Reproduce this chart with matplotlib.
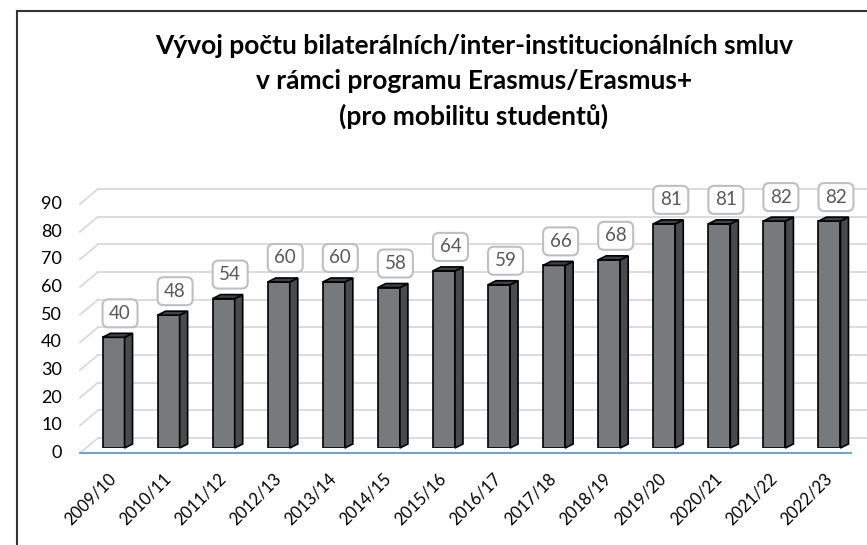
import matplotlib
matplotlib.use("Agg")
import matplotlib.pyplot as plt
from matplotlib.patches import Polygon, FancyBboxPatch
from matplotlib.lines import Line2D
from matplotlib import transforms

# ---- data ----
seasons = ["2009/10", "2010/11", "2011/12", "2012/13", "2013/14", "2014/15", "2015/16",
           "2016/17", "2017/18", "2018/19", "2019/20", "2020/21", "2021/22", "2022/23"]
counts = [40, 48, 54, 60, 60, 58, 64, 59, 66, 68, 81, 81, 82, 82]
yticks = [0, 10, 20, 30, 40, 50, 60, 70, 80, 90]
title_lines = ["Vývoj počtu bilaterálních/inter-institucionálních smluv",
               "v rámci programu Erasmus/Erasmus+",
               "(pro mobilitu studentů)"]

plt.rcParams['font.family'] = ['Lato', 'DejaVu Sans']

W, H = 867, 545
fig = plt.figure(figsize=(W / 100, H / 100), dpi=100)
fig.patch.set_facecolor("white")

# axes in "bar plane"
ax_l, ax_b, ax_w, ax_h = 86, 97, 771, 276.7
ax = fig.add_axes([ax_l / W, ax_b / H, ax_w / W, ax_h / H])
n = len(seasons)
ax.set_xlim(-0.5, n - 0.5)
ax.set_ylim(0, 100)
ax.axis("off")

px_x = ax_w / n      # pixels per category
px_y = ax_h / 100.0  # pixels per value unit


def off(x, y, dxp, dyp):
    return (x + dxp / px_x, y + dyp / px_y)


FRONT = (-6, -5)
BACK = (12, 10)
grid_c = "#d9d9d9"

# back wall gridlines and floor/side diagonals
for v in yticks:
    p1 = off(-0.5, v, *BACK)
    p2 = off(n - 0.5, v, *BACK)
    ax.add_line(Line2D([p1[0], p2[0]], [p1[1], p2[1]], color=grid_c, lw=1.3, clip_on=False, zorder=1))
    f = off(-0.5, v, *FRONT)
    ax.add_line(Line2D([f[0], p1[0]], [f[1], p1[1]], color=grid_c, lw=1.3, clip_on=False, zorder=1))

# front baseline
b1 = off(-0.5, 0, *FRONT)
b2 = off(n - 0.5, 0, *FRONT)
ax.add_line(Line2D([b1[0], b2[0]], [b1[1], b2[1]], color="#5b9bd5", lw=1.3, clip_on=False, zorder=2))

# y tick labels
for v in yticks:
    x, y = off(-0.5, v, FRONT[0] - 18, FRONT[1])
    ax.text(x, y, str(v), ha="right", va="center", fontsize=13, color="#000000", clip_on=False)

# bars
bw = 0.4
DEP = (8, 4)
front_c = "#767a7d"
side_c = "#474b4e"
top_c = "#3f4245"
ax.bar(range(n), counts, width=bw, color=front_c, edgecolor="black", linewidth=1.2, zorder=3)
for i, v in enumerate(counts):
    r = i + bw / 2
    l = i - bw / 2
    side = [(r, 0), (r, v), off(r, v, *DEP), off(r, 0, *DEP)]
    top = [(l, v), (r, v), off(r, v, *DEP), off(l, v, *DEP)]
    ax.add_patch(Polygon(side, closed=True, fc=side_c, ec="black", lw=1.2, zorder=3, clip_on=False))
    ax.add_patch(Polygon(top, closed=True, fc=top_c, ec="black", lw=1.2, zorder=3, clip_on=False))

    # data label box
    cx, cy = off(i, v, 6.5, 24)
    tr = fig.dpi_scale_trans + transforms.ScaledTranslation(cx, cy, ax.transData)
    box = FancyBboxPatch((-0.175, -0.14), 0.35, 0.28,
                         boxstyle="round,pad=0,rounding_size=0.06",
                         fc="white", ec="#bfbfbf", lw=1.5, transform=tr, zorder=4, clip_on=False)
    ax.add_patch(box)
    ax.text(cx, cy, str(v), ha="center", va="center", fontsize=13.5, color="#595959",
            zorder=5, clip_on=False)

    # category labels
    tx, ty = off(i, 0, -6, -22)
    ax.text(tx, ty, seasons[i], rotation=45, rotation_mode="anchor", ha="right", va="top",
            fontsize=12, color="#000000", clip_on=False)

# title
for k, line in enumerate(title_lines):
    fig.text(474 / W, 1 - (46 + 35 * k) / H, line, ha="center", va="center",
             fontsize=19, fontweight="bold", color="#000000")

# outer border (left & top visible)
fig.add_artist(Line2D([16.5 / W, 16.5 / W], [0, 1 - 10.5 / H], color="#333333", lw=1.5,
                      transform=fig.transFigure))
fig.add_artist(Line2D([16.5 / W, 1], [1 - 10.5 / H, 1 - 10.5 / H], color="#333333", lw=1.5,
                      transform=fig.transFigure))

fig.savefig("out.png", dpi=100)
